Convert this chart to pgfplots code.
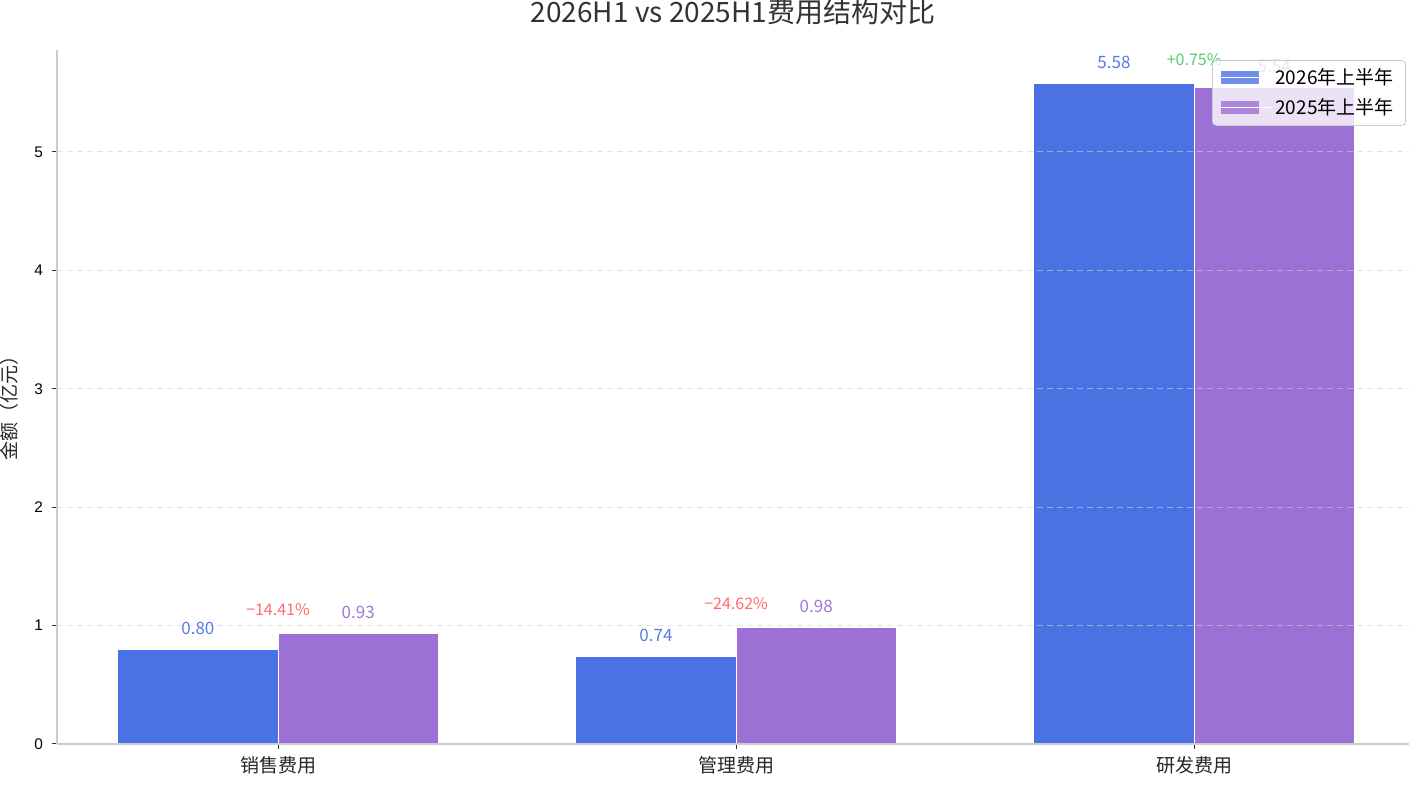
\documentclass[border=0pt]{standalone}
\usepackage{fontspec}
\setmainfont{Noto Sans CJK SC}
\newfontfamily\arialfont{Liberation Sans}
\usepackage{pgfplots}
\pgfplotsset{compat=1.18}
\definecolor{barblue}{RGB}{74,114,227}
\definecolor{barpurple}{RGB}{156,112,212}
\definecolor{lblblue}{RGB}{88,124,230}
\definecolor{lblpurple}{RGB}{160,120,215}
\definecolor{pctred}{RGB}{255,107,107}
\definecolor{pctgreen}{RGB}{81,207,102}
\definecolor{spine}{RGB}{204,204,204}
\begin{document}
\begin{tikzpicture}
\begin{axis}[
  scale only axis, width=676pt, height=347pt,
  xmin=-0.4825, xmax=2.469, ymin=0, ymax=5.86,
  axis x line*=bottom, axis y line*=left,
  axis line style={spine, line width=0.7pt},
  xtick={0,1,2}, xticklabels={销售费用,管理费用,研发费用},
  ytick={0,1,2,3,4,5},
  tick align=outside, major tick length=2.5pt,
  tick style={black!80, line width=0.5pt},
  xticklabel style={font=\fontsize{9.5pt}{11pt}\selectfont, text=black!85},
  yticklabel style={font=\arialfont\fontsize{7.7pt}{9pt}\selectfont, text=black, xshift=-1pt},
  /pgf/number format/assume math mode=true,
  ymajorgrids, grid style={white!82!black, dash pattern=on 3pt off 2pt, line width=0.4pt, opacity=0.6},
  axis on top,
  ylabel={金额（亿元）},
  ylabel style={font=\fontsize{9.5pt}{11pt}\selectfont, at={(axis description cs:-0.0355,0.49)}, anchor=center, text=black!85},
  every axis title shift=0pt,
  title={2026H1 vs 2025H1费用结构对比},
  title style={font=\fontsize{14pt}{16pt}\selectfont, at={(axis description cs:0.5,1)}, anchor=base, yshift=13.5pt, text=black!80},
  legend style={at={(axis description cs:1,1)}, anchor=north east, xshift=-1.5pt, yshift=-5pt,
    draw=spine, rounded corners=2pt, fill=white, fill opacity=0.8, text opacity=1,
    font=\fontsize{9.5pt}{11pt}\selectfont, inner xsep=4pt, inner ysep=2pt,
    row sep=1.5pt},
  legend cell align=left,
  legend image code/.code={\fill[#1, sharp corners, draw=none] (0pt,-3.25pt) rectangle (19pt,3.25pt); \path (0pt,0pt) -- (25pt,0pt);},
  nodes near coords style={font=\fontsize{8.5pt}{10pt}\selectfont},
]
\addplot[ybar, bar width=0.35, bar shift=0, fill=barblue, draw=white, line width=0.5pt,
  nodes near coords={\pgfmathprintnumber[fixed,fixed zerofill,precision=2]{\pgfplotspointmeta}},
  every node near coord/.append style={anchor=center, yshift=10.5pt, text=lblblue}]
  coordinates {(-0.175,0.80) (0.825,0.74) (1.825,5.58)};
\addlegendentry{2026年上半年}
\addplot[ybar, bar width=0.35, bar shift=0, fill=barpurple, draw=white, line width=0.5pt,
  nodes near coords={\pgfmathprintnumber[fixed,fixed zerofill,precision=2]{\pgfplotspointmeta}},
  every node near coord/.append style={anchor=center, yshift=10.5pt, text=lblpurple}]
  coordinates {(0.175,0.93) (1.175,0.98) (2.175,5.54)};
\addlegendentry{2025年上半年}
\addplot[ybar, bar width=0.35, bar shift=0, fill=none, draw=none, forget plot,
  point meta=explicit symbolic, nodes near coords,
  every node near coord/.append style={anchor=center, yshift=12pt, text=pctred, font=\fontsize{8pt}{10pt}\selectfont}]
  coordinates {(0,0.93) [−14.41\%] (1,0.98) [−24.62\%]};
\addplot[ybar, bar width=0.35, bar shift=0, fill=none, draw=none, forget plot,
  point meta=explicit symbolic, nodes near coords,
  every node near coord/.append style={anchor=center, yshift=12pt, text=pctgreen, font=\fontsize{8pt}{10pt}\selectfont}]
  coordinates {(2,5.58) [+0.75\%]};
\end{axis}
\pgfresetboundingbox
\path[use as bounding box] ([shift={(-28.5pt,-20.5pt)}]current axis.south west) rectangle ([shift={(0pt,25pt)}]current axis.north east);
\end{tikzpicture}
\end{document}
